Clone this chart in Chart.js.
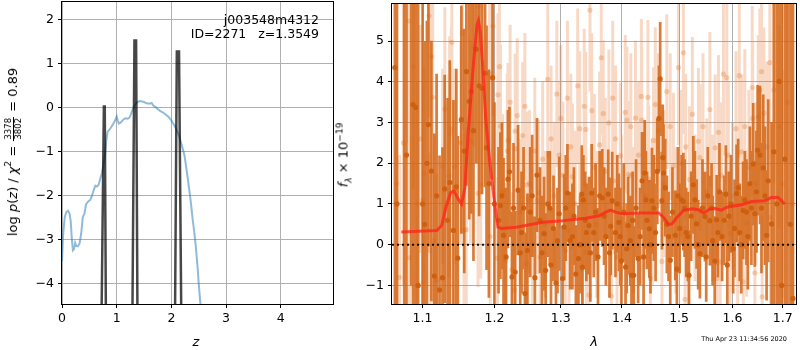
<!DOCTYPE html>
<html>
<head>
<meta charset="UTF-8">
<title>p(z) and spectrum</title>
<script src="https://cdn.jsdelivr.net/npm/chart.js"></script>
<style>
  body { margin: 0; background: #fff; }
  #wrap { position: relative; width: 800px; height: 350px; overflow: hidden; font-family: "DejaVu Sans", sans-serif; }
  canvas { position: absolute; top: 0; }
  .lab { position: absolute; transform: translate(-50%, -50%); white-space: pre; font-size: 13px; line-height: 1; color: #000; }
  .rot { transform: translate(-50%, -50%) rotate(-90deg); }
  .txt { position: absolute; white-space: pre; font-size: 12.5px; line-height: 14px; text-align: right; }
  .frac { display: inline-block; vertical-align: middle; text-align: center; font-size: 8.5px; line-height: 1; margin: 0 1px; }
  .frac span { display: block; padding: 0 1px; }
  .frac span:first-child { border-bottom: 1px solid #000; }
  sup, sub { font-size: 9px; line-height: 0; }
</style>
</head>
<body>
<div id="wrap">
  <canvas id="cL" width="340" height="350" style="left:0"></canvas>
  <canvas id="cR" width="460" height="350" style="left:340px"></canvas>

  <div class="lab rot" style="left:13px;top:152px">log <i>p</i>(<i>z</i>) / <i>χ</i><sup>2</sup> = <span class="frac"><span>3378</span><span>3802</span></span> = 0.89</div>
  <div class="lab" style="left:196px;top:341px"><i>z</i></div>
  <div class="txt" style="right:481px;top:13px">j003548m4312</div>
  <div class="txt" style="right:481px;top:27px">ID=2271   z=1.3549</div>

  <div class="lab rot" style="left:343px;top:155px"><i>f</i><sub><i>λ</i></sub> × 10<sup>−19</sup></div>
  <div class="lab" style="left:594px;top:341px"><i>λ</i></div>
  <div class="txt" style="right:13px;top:335px;font-size:6.5px;line-height:8px">Thu Apr 23 11:34:56 2020</div>
</div>

<script>
// left panel: log p(z)
const zTicks = [0, 1, 2, 3, 4];
const logpTicks = [-4, -3, -2, -1, 0, 1, 2];
const pzZ = [0.00, 0.02, 0.05, 0.08, 0.11, 0.14, 0.16, 0.18, 0.20, 0.22, 0.24, 0.26, 0.29, 0.32, 0.35, 0.38,
  0.41, 0.44, 0.48, 0.52, 0.55, 0.58, 0.61, 0.64, 0.67, 0.70, 0.73, 0.76, 0.79, 0.81, 0.835, 0.86, 0.89, 0.92,
  0.95, 0.98, 1.00, 1.02, 1.04, 1.07, 1.10, 1.13, 1.16, 1.20, 1.23, 1.26, 1.29, 1.32, 1.35, 1.38, 1.42, 1.46,
  1.50, 1.55, 1.60, 1.64, 1.67, 1.72, 1.76, 1.80, 1.85, 1.90, 1.95, 2.00, 2.04, 2.08, 2.12, 2.15, 2.18, 2.21,
  2.24, 2.27, 2.30, 2.33, 2.36, 2.39, 2.42, 2.45, 2.48, 2.50, 2.53, 2.57];
const pzLog = [-3.5, -2.9, -2.5, -2.38, -2.35, -2.42, -2.6, -3.0, -3.25, -3.22, -3.08, -3.15, -3.16, -3.1, -2.88, -2.5,
  -2.42, -2.2, -2.14, -2.1, -2.0, -1.88, -1.78, -1.80, -1.76, -1.62, -1.5, -1.3, -1.05, -0.75, -0.55, -0.52, -0.47, -0.41,
  -0.35, -0.27, -0.21, -0.3, -0.37, -0.35, -0.31, -0.27, -0.25, -0.26, -0.24, -0.16, -0.06, 0.03, 0.08, 0.12, 0.14, 0.13,
  0.12, 0.09, 0.08, 0.10, 0.04, 0.0, -0.05, -0.09, -0.12, -0.17, -0.22, -0.30, -0.38, -0.47, -0.58, -0.68, -0.82, -0.95,
  -1.1, -1.35, -1.62, -1.9, -2.2, -2.55, -2.85, -3.2, -3.65, -4.0, -4.45, -5.0];
const spikeZ = [[0.712, 0.766, 0.782, 0.808], [1.28, 1.325, 1.355, 1.385], [2.06, 2.10, 2.14, 2.19]];
const spikeLog = [[-6, 0.02, 0.02, -6], [-6, 1.52, 1.52, -6], [-6, 1.27, 1.27, -6]];

// right panel: spectrum
const lamTicks = [1.1, 1.2, 1.3, 1.4, 1.5, 1.6, 1.7];
const fluxTicks = [-1, 0, 1, 2, 3, 4, 5];
const darkLam = [1.0640, 1.0667, 1.0761, 1.0790, 1.0852, 1.0875, 1.0910, 1.0943, 1.1003,
  1.1030, 1.1060, 1.1080, 1.1120, 1.1160, 1.1190, 1.1230, 1.1270, 1.1300, 1.1340, 1.1370, 1.1420, 1.1460, 1.1480,
  1.1530, 1.1570, 1.1600, 1.1640, 1.1670, 1.1700, 1.1740, 1.1780, 1.1821, 1.1865, 1.1886, 1.1920, 1.1973, 1.2000,
  1.2087, 1.2133, 1.2198, 1.2220, 1.2258, 1.2305, 1.2348, 1.2400, 1.2451, 1.2488, 1.2530, 1.2602, 1.2633, 1.2680, 1.2742,
  1.2766, 1.2800, 1.2849, 1.2888, 1.2926, 1.2977,
  1.3029, 1.3055, 1.3107, 1.3150, 1.3186, 1.3241, 1.3282, 1.3336, 1.3346, 1.3362, 1.3410, 1.3453, 1.3497, 1.3560, 1.3627,
  1.3670, 1.3730, 1.3769, 1.3810, 1.3835, 1.3890, 1.3947, 1.3990,
  1.4060, 1.4104, 1.4141, 1.4161, 1.4200, 1.4240, 1.4276, 1.4343, 1.4390, 1.4430, 1.4470, 1.4516, 1.4580, 1.4640, 1.4661,
  1.4692, 1.4707, 1.4720, 1.4780, 1.4841, 1.4931, 1.4980,
  1.5047, 1.5078, 1.5130, 1.5181, 1.5260, 1.5321, 1.5382, 1.5476, 1.5530, 1.5569, 1.5620, 1.5697, 1.5750, 1.5800, 1.5873,
  1.5930, 1.6013,
  1.6079, 1.6140, 1.6207, 1.6273, 1.6340, 1.6405, 1.6437, 1.6494, 1.6540, 1.6605, 1.6673, 1.6706, 1.6774, 1.6820, 1.6880,
  1.6927, 1.6980, 1.7044, 1.7100, 1.7160, 1.7213,
  1.2060, 1.2110, 1.2170, 1.2280, 1.2380, 1.2430, 1.2560, 1.2710, 1.2830, 1.2950,
  1.3080, 1.3210, 1.3310, 1.3390, 1.3475, 1.3530, 1.3600, 1.3700, 1.3790, 1.3920, 1.3970,
  1.4030, 1.4080, 1.4180, 1.4310, 1.4370, 1.4410, 1.4490, 1.4550, 1.4610, 1.4750, 1.4810, 1.4880, 1.4960,
  1.5010, 1.5100, 1.5160, 1.5220, 1.5290, 1.5350, 1.5430, 1.5500, 1.5600, 1.5660, 1.5720, 1.5840, 1.5900, 1.5970,
  1.6040, 1.6110, 1.6170, 1.6240, 1.6300, 1.6370, 1.6470, 1.6570, 1.6640];
const darkFlux = [4.35, 1.0, -2.0, 2.20, 7.0, 3.44, 3.37, -1.0, 1.0,
  0.5, 2.0, 2.95, 1.81, -0.77, 1.2, -1.11, -0.81, 1.37, 0.6, 1.53, 0.35, 1.42, -0.33,
  3.07, 2.3, 4.25, 3.52, 3.76, 2.8, 4.8, 3.9, 3.84, 4.21, 2.38, 1.5, 4.10, 1.0,
  0.96, 0.23, 1.61, 1.79, -0.79, -0.67, 1.34, 0.3, -1.20, -0.14, 0.8, -0.81, 1.71, 0.6, 0.27,
  -0.63, 1.0, -0.50, 0.4, -0.94, 0.76,
  -0.83, 0.43, 1.27, 0.1, 0.20, -0.72, -0.34, 1.24, -0.55, 1.10, 0.3, 0.47, 1.27, 0.8, 1.20,
  1.15, 0.2, 1.24, 0.45, 1.08, 0.3, 0.55, -0.4,
  -0.55, 0.47, 0.10, -0.75, -0.75, 0.9, -0.34, 1.57, 1.76, 0.6, 0.39, 1.08, 0.3, 3.10, 4.07,
  1.08, 2.14, 1.76, 0.5, -0.38, 0.23, 1.2,
  1.10, 1.06, 0.3, -0.75, 1.47, 0.51, -0.22, 0.69, 1.2, 0.59, 0.1, 0.61, 1.3, 0.2, 1.24,
  0.7, -0.10,
  1.26, 0.3, 0.84, 0.80, 1.5, 1.98, 0.76, 2.32, 2.20, 1.89, 0.23, 1.57, 0.51, 2.28, 1.0,
  4.01, -1.0, 2.10, 6.5, 0.5, -1.32,
  0.6, 1.2, -0.3, 0.9, -0.2, 0.9, 1.2, -0.2, 0.9, 0.1,
  0.9, 0.7, 0.0, 0.6, -0.2, 0.3, -0.3, 0.7, -0.2, 1.0, 0.2,
  0.8, -0.1, 0.6, 0.2, -0.3, 1.1, 0.0, 0.9, 1.8, 1.4, 0.2, 0.8, -0.6,
  0.4, 0.9, 0.2, 0.7, 1.1, 0.0, 0.9, -0.3, 0.9, -0.4, 0.3, 0.6, -0.5, 1.0,
  0.4, 1.4, 0.0, 1.1, 0.2, 0.9, 1.3, 0.9, 1.2];
const darkErr = [7, 8, 8, 6, 8, 6, 6, 7, 5.5,
  4.5, 3.5, 3.0, 3.2, 3.5, 3.0, 3.3, 3.2, 2.8, 3.0, 3.0, 3.2, 2.9, 3.0,
  2.8, 3.0, 2.8, 2.9, 3.0, 3.2, 2.8, 3.2, 2.6, 2.8, 3.0, 2.8, 2.5, 2.5,
  1.8, 1.9, 1.7, 1.6, 1.6, 1.5, 1.6, 1.5, 1.5, 1.4, 1.6, 1.5, 1.4, 1.3, 1.4,
  1.4, 1.3, 1.4, 1.3, 1.3, 1.4,
  1.3, 1.3, 1.2, 1.2, 1.3, 1.2, 1.3, 1.2, 1.2, 1.1, 1.2, 1.2, 1.2, 1.2, 1.1,
  1.2, 1.2, 1.1, 1.2, 1.2, 1.1, 1.2, 1.1,
  1.1, 1.2, 1.1, 1.1, 1.2, 1.2, 1.1, 1.2, 1.3, 1.2, 1.2, 1.3, 1.2, 1.3, 1.4,
  1.2, 1.3, 1.2, 1.2, 1.1, 1.1, 1.2,
  1.1, 1.2, 1.1, 1.1, 1.2, 1.1, 1.1, 1.1, 1.2, 1.1, 1.1, 1.1, 1.2, 1.1, 1.2,
  1.1, 1.1,
  1.2, 1.2, 1.2, 1.3, 1.4, 1.5, 1.3, 1.6, 1.7, 1.8, 1.6, 2.0, 2.5, 6, 8,
  7, 8, 6, 8, 8, 8,
  1.8, 1.8, 1.7, 1.6, 1.5, 1.5, 1.5, 1.4, 1.4, 1.3,
  1.3, 1.2, 1.2, 1.2, 1.2, 1.1, 1.2, 1.2, 1.1, 1.2, 1.2,
  1.2, 1.1, 1.2, 1.2, 1.2, 1.2, 1.2, 1.3, 1.3, 1.2, 1.1, 1.1, 1.1,
  1.1, 1.2, 1.1, 1.1, 1.2, 1.1, 1.2, 1.1, 1.1, 1.1, 1.1, 1.1, 1.1, 1.2,
  1.2, 1.2, 1.2, 1.2, 1.3, 1.4, 1.5, 1.6, 1.7];
const lightLam = [1.0660, 1.0700, 1.0750, 1.0817, 1.0830, 1.0882, 1.0930, 1.0975, 1.1003, 1.1010, 1.1020, 1.1089, 1.1100,
  1.1125, 1.1138, 1.1146, 1.1192, 1.1272, 1.1302, 1.1359, 1.1368, 1.1391, 1.1398, 1.1412, 1.1434, 1.1523, 1.1545, 1.1567,
  1.1598, 1.1658, 1.1702, 1.1765, 1.1775, 1.1803, 1.1931, 1.1940, 1.1979,
  1.2045, 1.2051, 1.2073, 1.2088, 1.2160, 1.2188, 1.2198, 1.2258, 1.2290, 1.2305, 1.2313, 1.2335, 1.2417, 1.2474, 1.2483,
  1.2510, 1.2519, 1.2566, 1.2636, 1.2659, 1.2682, 1.2720, 1.2799, 1.2977,
  1.3002, 1.3034, 1.3072, 1.3107, 1.3131, 1.3186, 1.3303, 1.3346, 1.3375, 1.3385, 1.3400, 1.3410, 1.3453, 1.3469, 1.3497,
  1.3627, 1.3653, 1.3686, 1.3779, 1.3823, 1.3844, 1.3861, 1.3916, 1.3972,
  1.4056, 1.4083, 1.4112, 1.4141, 1.4229, 1.4332, 1.4338, 1.4446, 1.4458, 1.4488, 1.4545, 1.4575, 1.4692, 1.4779, 1.4898,
  1.4988, 1.5078, 1.5109, 1.5120, 1.5169, 1.5242, 1.5355, 1.5382, 1.5569, 1.5669, 1.5701, 1.5731, 1.5763, 1.5826, 1.5890,
  1.5953, 1.6068, 1.6132, 1.6178, 1.6210, 1.6276, 1.6386, 1.6394, 1.6439, 1.6505, 1.6538, 1.6572, 1.6584, 1.6618, 1.6738,
  1.6750, 1.6927, 1.7100, 1.7200,
  1.2120, 1.2230, 1.2380, 1.2450, 1.2600, 1.2760, 1.2850, 1.2900, 1.2940, 1.3160, 1.3230, 1.3270, 1.3540, 1.3580,
  1.3720, 1.3890, 1.3990, 1.4150, 1.4200, 1.4280, 1.4390, 1.4520, 1.4630, 1.4720, 1.4840, 1.4940, 1.5040, 1.5190,
  1.5290, 1.5440, 1.5510, 1.5620, 1.5790, 1.5920, 1.6000, 1.6100, 1.6240, 1.6320, 1.6460, 1.6680, 1.6820, 1.7000];
const lightFlux = [1.5, -0.8, 2.5, 5.49, -0.32, 4.37, 1.0, 2.6, 1.10, -0.91, 1.75, 5.62, -0.14,
  4.62, 3.62, 0.10, -0.87, 1.92, 3.33, 1.69, 2.72, 2.84, 4.97, 0.35, 1.92, 2.50, 5.19, 0.35,
  0.37, 2.53, 4.82, 1.26, 5.84, 1.47, 4.21, 0.20, 5.37,
  -0.33, 3.68, 4.37, 2.91, -0.38, 2.30, 2.56, -0.61, -1.11, 2.79, 2.36, 3.17, 2.68, -0.46, 1.47,
  1.10, 1.50, 0.06, 1.08, 1.28, -0.30, 2.1, 4.06, 2.20,
  3.10, 1.71, -0.14, 3.60, 0.35, 1.67, 2.85, -0.59, 3.40, 1.49, 2.83, -0.18, -1.24, 5.76, 3.29,
  2.45, 4.59, 3.22, 2.99, -1.26, 3.60, 1.57, -0.30, 2.18,
  3.25, 3.06, 1.73, 1.69, 3.11, 3.64, 3.06, 3.62, 1.61, -0.83, 2.56, 3.44, -0.41, 3.76, 1.93,
  4.35, 4.71, -1.34, 2.40, -0.73, 3.20, 2.54, 2.14, 3.32, 2.38, -0.83, 2.76, -0.42, 4.19, 4.10,
  0.27, 2.85, 4.15, 2.28, -0.91, 0.53, 3.86, 3.10, -0.69, 3.14, 3.80, 4.25, -1.28, 3.23, 4.47,
  0.67, 2.89, 3.5, 1.0,
  1.3, 3.5, 0.8, 3.4, 2.3, 0.5, 2.6, 1.2, 3.7, 2.4, 1.0, 3.9, 1.9, 0.5,
  1.8, 2.6, 0.9, 2.9, 0.6, 2.2, 1.2, 0.8, 2.8, 1.5, 2.9, 0.6, 2.0, 1.6,
  0.9, 2.9, 1.3, 0.9, 1.7, 2.2, 1.2, 0.1, 2.9, 1.9, 1.5, 2.4, 3.8, 1.5];
const lightErr = [3.5, 3.0, 3.5, 3.0, 3.0, 3.0, 3.0, 2.8, 2.5, 2.5, 2.6, 2.5, 2.4,
  2.5, 2.5, 2.6, 2.6, 2.4, 2.5, 2.5, 2.4, 2.5, 2.5, 2.4, 2.4, 2.5, 2.4, 2.4,
  2.5, 2.5, 2.4, 2.3, 2.4, 2.3, 2.3, 2.2, 2.2,
  2.0, 2.0, 2.0, 2.0, 1.9, 1.9, 1.9, 1.9, 1.8, 1.9, 1.9, 1.9, 1.8, 1.8, 1.8,
  1.8, 1.8, 1.8, 1.8, 1.8, 1.8, 1.9, 1.9, 1.8,
  1.8, 1.8, 1.8, 1.9, 1.8, 1.8, 1.9, 1.8, 1.9, 1.8, 1.9, 1.8, 1.8, 2.0, 1.9,
  1.8, 1.9, 1.8, 1.8, 1.8, 1.9, 1.8, 1.8, 1.8,
  1.9, 1.8, 1.8, 1.8, 1.9, 1.9, 1.8, 1.9, 1.8, 1.8, 1.8, 1.9, 1.8, 1.9, 1.8,
  1.9, 2.0, 1.8, 1.8, 1.8, 1.9, 1.8, 1.8, 1.9, 1.8, 1.8, 1.9, 1.8, 2.0, 2.0,
  1.8, 1.9, 2.0, 1.9, 1.8, 1.8, 2.0, 1.9, 1.9, 2.0, 2.0, 2.1, 2.0, 2.1, 2.2,
  2.2, 2.5, 3.0, 3.0,
  1.9, 1.9, 1.8, 1.8, 1.8, 1.8, 1.8, 1.8, 1.8, 1.8, 1.8, 1.9, 1.8, 1.8,
  1.8, 1.8, 1.8, 1.8, 1.8, 1.8, 1.8, 1.8, 1.9, 1.8, 1.8, 1.8, 1.8, 1.8,
  1.8, 1.8, 1.8, 1.8, 1.8, 1.8, 1.8, 1.8, 1.9, 1.9, 2.0, 2.1, 2.3, 2.8];
const modelLam = [1.0722, 1.1192, 1.1259, 1.1317, 1.1381, 1.1427, 1.1486, 1.1533, 1.1579, 1.1624, 1.1694, 1.1750, 1.1770,
  1.1795, 1.1827, 1.1874, 1.1931, 1.1989, 1.2051, 1.2100, 1.2320, 1.2720, 1.3029, 1.3400, 1.3617, 1.3727, 1.3810, 1.3893,
  1.4004, 1.4287, 1.4635, 1.4723, 1.4811, 1.4870, 1.4960, 1.5081, 1.5232, 1.5355, 1.5448, 1.5573, 1.5667, 1.5791, 1.5887,
  1.6176, 1.6372, 1.6638, 1.6770, 1.6906, 1.7043];
const modelFlux = [0.31, 0.35, 0.47, 0.92, 1.28, 1.32, 1.12, 1.00, 1.40, 2.71, 4.33, 5.40, 5.50,
  5.25, 4.50, 3.11, 2.06, 1.20, 0.43, 0.40, 0.43, 0.55, 0.59, 0.65, 0.71, 0.80, 0.85, 0.80,
  0.76, 0.78, 0.78, 0.67, 0.50, 0.51, 0.67, 0.84, 0.88, 0.86, 0.78, 0.88, 0.89, 0.85, 0.92,
  0.98, 1.06, 1.08, 1.16, 1.16, 1.00];

const tickFont = { family: "DejaVu Sans", size: 12.5 };
const minus = v => (v < 0 ? "\u2212" : "") + Math.abs(v);

function xy(xs, ys) { return xs.map((x, i) => ({ x: x, y: ys[i] })); }

function errSegments(lam, flux, err) {
  const pts = [];
  for (let i = 0; i < lam.length; i++) {
    pts.push({ x: lam[i], y: flux[i] - err[i] }, { x: lam[i], y: flux[i] + err[i] }, { x: lam[i], y: null });
  }
  return pts;
}

const frame = {
  id: "frame",
  afterDraw(chart) {
    const a = chart.chartArea, ctx = chart.ctx;
    ctx.save();
    ctx.strokeStyle = "#000";
    ctx.lineWidth = 1;
    ctx.strokeRect(Math.round(a.left) - 0.5, Math.round(a.top) - 0.5,
      Math.round(a.right - a.left) + 1, Math.round(a.bottom - a.top) + 1);
    ctx.restore();
  }
};

function axis(min, max, ticks, fmt, size, horiz, extra) {
  return Object.assign({
    min: min, max: max,
    afterBuildTicks: s => { s.ticks = ticks.map(v => ({ value: v })); },
    afterFit: s => {
      if (horiz) s.height = size; else s.width = size;
      // no extra room for the end labels, the box is fixed
      s.paddingTop = 0; s.paddingBottom = 0; s.paddingLeft = 0; s.paddingRight = 0;
    },
    grid: { color: "#b0b0b0", lineWidth: 1, tickColor: "#000", tickLength: 4, tickWidth: 1 },
    border: { display: false },
    ticks: { font: tickFont, color: "#000", padding: horiz ? 3 : 4, maxRotation: 0, autoSkip: false, callback: fmt }
  }, extra || {});
}

const common = {
  responsive: false, animation: false, devicePixelRatio: 1, events: [],
  plugins: { legend: { display: false }, tooltip: { enabled: false } }
};

// left chart
const spikeData = [];
spikeZ.forEach((zs, k) => {
  zs.forEach((z, i) => spikeData.push({ x: z, y: spikeLog[k][i] }));
  spikeData.push({ x: zs[zs.length - 1], y: null });
});

new Chart(document.getElementById("cL"), {
  type: "scatter",
  data: {
    datasets: [
      { data: spikeData, showLine: true, pointRadius: 0, borderColor: "rgba(0,0,0,0.72)", borderWidth: 2.5, clip: 0, order: 0 },
      { data: xy(pzZ, pzLog), showLine: true, pointRadius: 0, borderColor: "rgba(31,119,180,0.5)", borderWidth: 2, clip: 0, order: 1 }
    ]
  },
  options: Object.assign({}, common, {
    layout: { padding: { left: 0, top: 2, right: 7, bottom: 0 } },
    scales: {
      x: axis(0, 4.956, zTicks, v => minus(v), 46, true, { type: "linear" }),
      y: axis(-4.47, 2.393, logpTicks, v => minus(v), 62, false, { type: "linear" })
    }
  }),
  plugins: [frame]
});

// right chart
new Chart(document.getElementById("cR"), {
  type: "scatter",
  data: {
    datasets: [
      { data: xy(modelLam, modelFlux), showLine: true, pointRadius: 0, borderColor: "rgba(255,35,25,0.75)", borderWidth: 3, clip: 0, order: 0 },
      { data: [{ x: 1.0603, y: 0 }, { x: 1.7276, y: 0 }], showLine: true, pointRadius: 0, borderColor: "#111", borderWidth: 2, borderDash: [2, 3], clip: 0, order: 1 },
      { data: xy(darkLam, darkFlux), pointRadius: 2.6, pointBorderWidth: 0, pointBackgroundColor: "rgba(205,95,15,0.95)", clip: 0, order: 2 },
      { data: errSegments(darkLam, darkFlux, darkErr), showLine: true, pointRadius: 0, borderColor: "rgba(212,100,20,0.85)", borderWidth: 2.7, borderCapStyle: "butt", clip: 0, order: 3 },
      { data: xy(lightLam, lightFlux), pointRadius: 2.6, pointBorderWidth: 0, pointBackgroundColor: "rgba(225,115,40,0.3)", clip: 0, order: 4 },
      { data: errSegments(lightLam, lightFlux, lightErr), showLine: true, pointRadius: 0, borderColor: "rgba(230,120,45,0.28)", borderWidth: 3, borderCapStyle: "butt", clip: 0, order: 5 }
    ]
  },
  options: Object.assign({}, common, {
    layout: { padding: { left: 0, top: 2, right: 2, bottom: 0 } },
    scales: {
      x: axis(1.0603, 1.7276, lamTicks, v => Number(v).toFixed(1), 46, true, { type: "logarithmic", z: 1 }),
      y: axis(-1.456, 5.91, fluxTicks, v => minus(v), 52, false, { type: "linear", z: 1 })
    }
  }),
  plugins: [frame]
});
</script>
</body>
</html>
